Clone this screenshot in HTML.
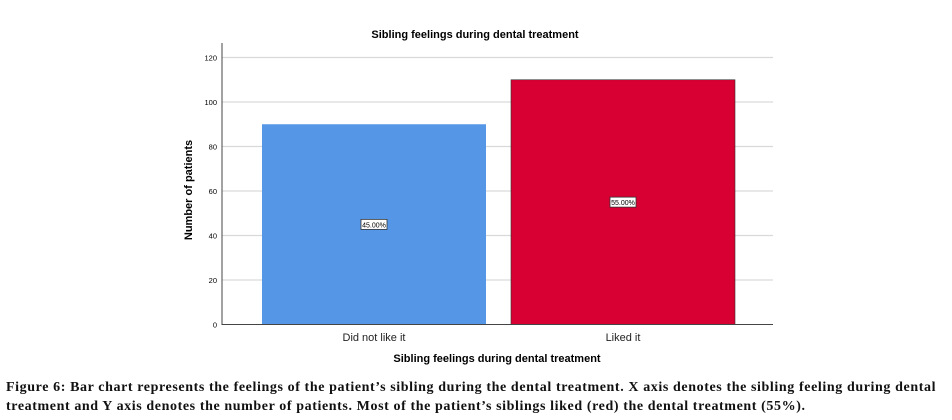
<!DOCTYPE html>
<html><head><meta charset="utf-8"><style>
body{margin:0;background:#fff;width:952px;height:420px;overflow:hidden;font-family:"Liberation Sans",sans-serif}
.cap{position:absolute;left:6px;top:378px;white-space:nowrap;font-family:"Liberation Serif",serif;font-weight:bold;font-size:14px;letter-spacing:0.6px;line-height:19px;color:#111}
</style></head><body>
<svg id="chart" width="952" height="375" style="position:absolute;left:0;top:0">
<text x="475" y="38" text-anchor="middle" font-size="11" font-weight="bold">Sibling feelings during dental treatment</text>
<g id="grid"></g><g id="bars"></g><g id="ticks"></g>
<line x1="222" y1="43" x2="222" y2="325" stroke="#444"/>
<line x1="222" y1="324.5" x2="773" y2="324.5" stroke="#444"/>
<text transform="translate(192,190) rotate(-90)" text-anchor="middle" font-size="11" font-weight="bold">Number of patients</text>
<text x="497" y="362" text-anchor="middle" font-size="11" font-weight="bold">Sibling feelings during dental treatment</text>
</svg>
<div class="cap">Figure 6: Bar chart represents the feelings of the patient’s sibling during the dental treatment. X axis denotes the sibling feeling during dental<br>treatment and Y axis denotes the number of patients. Most of the patient’s siblings liked (red) the dental treatment (55%).</div>
<script>
const categories=["Did not like it","Liked it"];
const values=[90,110];
const percentLabels=["45.00%","55.00%"];
const yTicks=[0,20,40,60,80,100,120];
const colors=["#5596e6","#d80032"];
const NS="http://www.w3.org/2000/svg";
const y=v=>324.5-v*2.225;
const bandX=i=>262+i*249;
function mk(t,a,p){const e=document.createElementNS(NS,t);for(const k in a)e.setAttribute(k,a[k]);p.appendChild(e);return e;}
const grid=document.getElementById('grid'),bars=document.getElementById('bars'),ticks=document.getElementById('ticks');
yTicks.forEach(v=>{
 if(v>0){const g=mk('line',{x1:222,x2:773,y1:y(v),y2:y(v),stroke:'#d9d9d9','stroke-width':1.3},grid);
 
 }
 const t=mk('text',{x:217,y:y(v)+3,'text-anchor':'end','font-size':7.5},ticks);t.textContent=v;
 
 
});
values.forEach((v,i)=>{
 const x=bandX(i),w=224;
 const r=mk('rect',{x:x,y:y(v),width:w,height:y(0)-y(v),fill:colors[i],stroke:i?'#333':'none','stroke-width':0.6},bars);
 
 
 const cy=y(v/2);
 const b=mk('rect',{x:x+w/2-13,y:cy-5,width:26,height:10,fill:'#fff',stroke:'#333','stroke-width':0.8},bars);
 
 
 const t=mk('text',{x:x+w/2,y:cy+3,'text-anchor':'middle','font-size':7},bars);t.textContent=percentLabels[i];
 
 
 const c=mk('text',{x:x+w/2,y:341,'text-anchor':'middle','font-size':11,fill:'#222'},ticks);c.textContent=categories[i];
 
 
});
</script>
</body></html>
